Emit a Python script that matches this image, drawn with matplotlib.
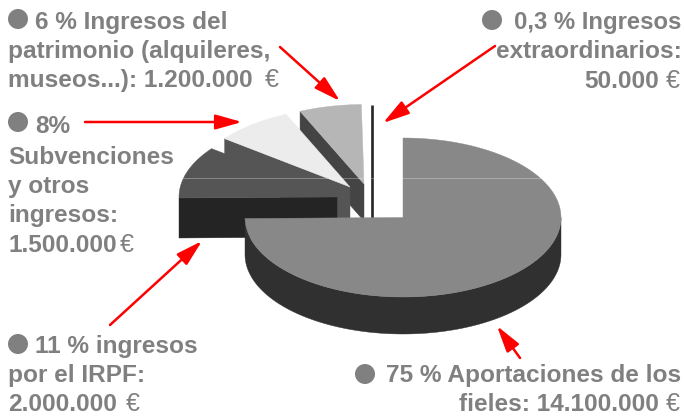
import numpy as np
import matplotlib
matplotlib.use("Agg")
import matplotlib.pyplot as plt
from matplotlib.patches import Polygon, Circle

plt.rcParams['font.family'] = ['Liberation Sans', 'DejaVu Sans']

# data
labels = ["Aportaciones", "IRPF", "Subvenciones", "Patrimonio", "Extraordinarios"]
euros = [14100000, 2000000, 1500000, 1200000, 50000]

# layout in pixels of the original picture
apex_x = [403, 337, 350, 364, 373]
apex_y = [217.5, 197, 187, 184, 184]
rx, ry = 158, 79.5
depth = 37
GREY = '#808080'

fig = plt.figure(figsize=(6.85, 4.16), dpi=100)
ax = fig.add_axes([0, 0, 1, 1])
ax.set_xlim(0, 685)
ax.set_ylim(416, 0)
ax.axis('off')

# angles go clockwise from the top, like the original pie
sweep = np.array(euros) / sum(euros) * 360
start = 90 - np.concatenate(([0], np.cumsum(sweep)[:-1]))
end = start - sweep


def rim(i, a0, a1, n=120):
    a = np.radians(np.linspace(a0, a1, n))
    return np.column_stack((apex_x[i] + rx * np.cos(a), apex_y[i] - ry * np.sin(a)))


def face(i, color, **kw):
    pts = np.vstack(([apex_x[i], apex_y[i]], rim(i, start[i], end[i])))
    ax.add_patch(Polygon(pts, closed=True, fc=color, ec=color, lw=0.3, **kw))


def cut(i, ang, color, d=depth):
    # flat side of a slice, the cut edge pushed down
    p = rim(i, ang, ang, 1)[0]
    pts = [p, (apex_x[i], apex_y[i]), (apex_x[i], apex_y[i] + d), (p[0], p[1] + d)]
    ax.add_patch(Polygon(pts, closed=True, fc=color, ec=color, lw=0.3))


# small slices, back to front
# the thinnest slice only shows as a dark stripe
top = rim(4, start[4], end[4], 3)[1]
ax.plot([top[0], top[0]], [top[1], apex_y[4] + depth], color='#262626', lw=1.9,
        solid_capstyle='butt', zorder=0.5)
cut(3, start[3], '#444444')
face(3, '#b6b6b6')
cut(2, start[2], '#555555')
cut(1, start[1], '#242424', 40)
face(1, '#555555')
face(2, '#ececec')

# big slice: rim side, then top
low = rim(0, 180, 360)
side = np.vstack((low, (low + [0, depth])[::-1]))
ax.add_patch(Polygon(side, closed=True, fc='#303030', ec='#303030', lw=0.3))
face(0, '#888888')

# thin light scan line running across the picture
ax.plot([183, 375], [177.5, 177.5], color='#ffffff', alpha=0.3, lw=0.7)
ax.plot([403, 540], [177.5, 177.5], color='#ffffff', alpha=0.3, lw=0.7)

# arrows
arrow_from = [(280, 47), (85, 122), (495, 46), (110, 325), (520, 358)]
arrow_to = [(340, 101), (242, 122), (383, 123), (202, 241), (497, 326)]
for a, b in zip(arrow_from, arrow_to):
    ax.annotate('', xy=b, xytext=a,
                arrowprops=dict(arrowstyle='-|>,head_length=1.6,head_width=0.45',
                                mutation_scale=10, color='#ff0000', lw=1.8,
                                shrinkA=0, shrinkB=0))

# texts
left_text = ["6 % Ingresos del", "patrimonio (alquileres,", "museos...): 1.200.000",
             "8%", "Subvenciones", "y otros", "ingresos:", "1.500.000",
             "11 % ingresos", "por el IRPF:", "2.000.000"]
left_x = [35, 8, 8, 35, 8, 8, 8, 8, 35, 8, 8]
left_y = [29, 58, 87, 133, 164, 193, 222, 252, 353, 382, 411]
right_text = ["0,3 % Ingresos", "extraordinarios:", "50.000",
              "75 % Aportaciones de los", "fieles: 14.100.000"]
right_x = [681, 682, 659, 681, 659]
right_y = [29, 58, 88, 382, 411]
right_size = [17.2, 17.6, 17.6, 17.6, 17.6]
euro_x = [265, 120, 126, 666, 666]
euro_y = [87, 252, 411, 88, 411]
bullet_x = [18, 18, 18, 492, 365]
bullet_y = [19, 122, 344, 20, 374]

for s, x, y in zip(left_text, left_x, left_y):
    ax.text(x, y, s, color=GREY, fontsize=17.6, fontweight='bold', ha='left', va='baseline')
for s, x, y, fs in zip(right_text, right_x, right_y, right_size):
    ax.text(x, y, s, color=GREY, fontsize=fs, fontweight='bold', ha='right', va='baseline')
for x, y in zip(euro_x, euro_y):
    ax.text(x, y, '€', color=GREY, fontsize=18, ha='left', va='baseline')
for x, y in zip(bullet_x, bullet_y):
    ax.add_patch(Circle((x, y), 10, fc=GREY, ec='none'))

fig.savefig('out.png', dpi=100)
